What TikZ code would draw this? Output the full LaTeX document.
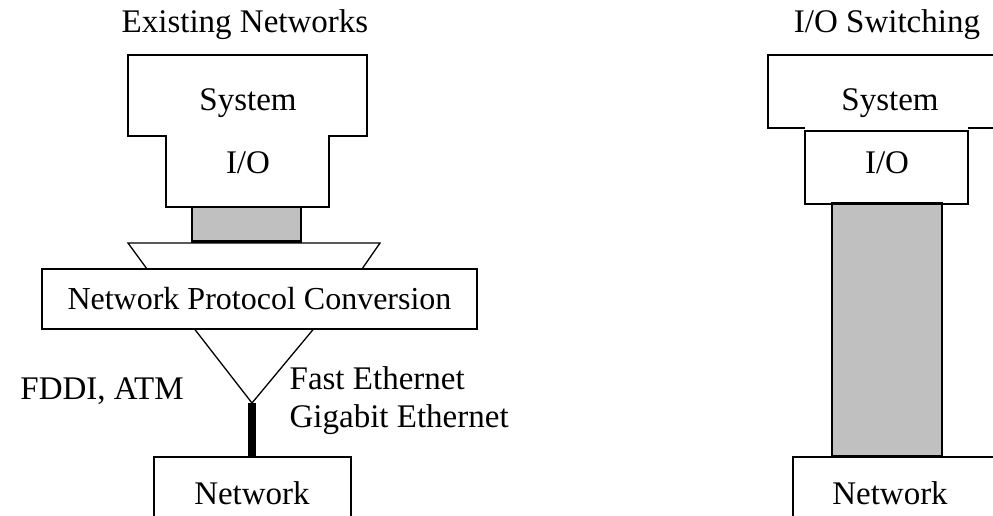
\documentclass[tikz,border=0pt]{standalone}
\usepackage{fontspec}
\setmainfont{Liberation Serif}
\usetikzlibrary{positioning}

\tikzset{
  txt/.style={inner sep=0pt, font=\fontsize{33}{38}\selectfont},
  box/.style={draw, fill=white, inner sep=0pt, font=\fontsize{32}{38}\selectfont},
  graybox/.style={draw, fill=graypart, inner sep=0pt},
}
\definecolor{graypart}{HTML}{C0C0C0}

\begin{document}
\begin{tikzpicture}[x=1pt, y=-1pt, line width=1.3pt]
  \useasboundingbox (0,0) rectangle (993,516);
  \clip (0,0) rectangle (993,516);

  % left: existing networks
  \node[txt] (title1) at (245,25) {Existing Networks};
  \draw (128,55) -- (367,55) -- (367,136) -- (329,136) -- (329,207)
        -- (166,207) -- (166,136) -- (128,136) -- cycle;
  \node[txt] (sys1) at (248,103) {System};
  \node[txt] (io1) at (248,163) {I/O};
  \node[graybox, minimum width=109pt, minimum height=34pt] (adapt1) at (246.5,224) {};
  \draw[line width=3pt] (adapt1.south west) -- (adapt1.south east);
  \draw (128,243) -- (380,243) -- (362,269) -- (147,269) -- cycle;
  \node[box, minimum width=435pt, minimum height=60pt] (npc) at (259.5,299) {Network Protocol Conversion};
  \coordinate (tip) at (252,403);
  \draw (npc.south -| 195,0) -- (tip) -- (npc.south -| 313,0);
  \node[box, minimum width=197pt, minimum height=74pt] (net1) at (252.5,494) {};
  \node[txt] (net1txt) at (252,493) {Network};
  \draw[line width=8pt] (tip) -- (tip |- net1.north);
  \node[txt] (fddi) at (102,391) {FDDI, ATM};
  \node[txt, anchor=west] (fast) at (289,378) {Fast Ethernet};
  \node[txt, anchor=west] (giga) at (289,420) {Gigabit Ethernet};

  % right: I/O switching
  \node[txt] (title2) at (887,25) {I/O Switching};
  \draw (805,128) -- (768,128) -- (768,55) -- (1000,55);
  \draw (968,128) -- (1000,128);
  \node[txt] (sys2) at (890,103) {System};
  \node[box, minimum width=163pt, minimum height=73pt] (io2) at (886.5,167.5) {};
  \node[txt] (io2txt) at (887,163) {I/O};
  \node[graybox, minimum width=110pt, minimum height=252pt] (column) at (887,330) {};
  \draw[line width=3pt] (column.north west) -- (column.north east);
  \draw[line width=3pt] (column.south west) -- (column.south east);
  \draw (793,457) rectangle (1000,530);
  \node[txt] (net2) at (890,493) {Network};
\end{tikzpicture}
\end{document}
